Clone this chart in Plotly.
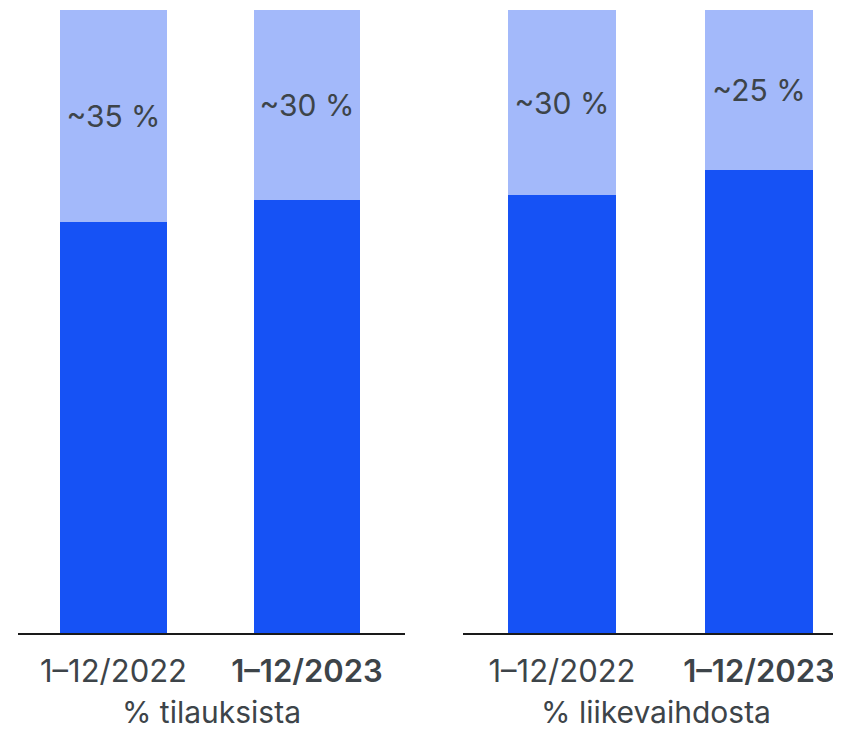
import plotly.graph_objects as go
from plotly.subplots import make_subplots

periods = ["1–12/2022", "<span style='font-weight:600'>1–12/2023</span>"]
panel_titles = ["% tilauksista", "% liikevaihdosta"]

orders_base = [66, 69.5]
orders_share = [34, 30.5]
orders_text = ["~35 %", "~30 %"]

sales_base = [70.3, 74.3]
sales_share = [29.7, 25.7]
sales_text = ["~30 %", "~25 %"]

DARK = "#1652F5"
LIGHT = "#A3B9FA"
TEXT = "#3d4449"
FONT = "Inter, Roboto, sans-serif"

fig = make_subplots(rows=1, cols=2)

panels = [(orders_base, orders_share, orders_text), (sales_base, sales_share, sales_text)]
for col, (base, share, labels) in enumerate(panels, start=1):
    fig.add_trace(
        go.Bar(x=[0, 1], y=base, marker=dict(color=DARK, line_width=0), width=0.55, showlegend=False),
        row=1, col=col,
    )
    fig.add_trace(
        go.Bar(
            x=[0, 1], y=share, marker=dict(color=LIGHT, line_width=0), width=0.55,
            text=labels, textposition="inside", insidetextanchor="middle",
            textfont=dict(size=30, color=TEXT, family=FONT), constraintext="none",
            textangle=0, showlegend=False,
        ),
        row=1, col=col,
    )

# page is drawn with an 8px body margin, so pixel targets are shifted by 8
axis_common = dict(
    tickmode="array", tickvals=[0, 1], ticktext=periods,
    tickfont=dict(size=31, color=TEXT, family=FONT),
    showline=True, linecolor="#1a1a1a", linewidth=2, showgrid=False, zeroline=False,
    ticks="", ticklabelstandoff=10,
    title_font=dict(size=30, color=TEXT, family=FONT), title_standoff=14,
)
fig.update_xaxes(axis_common)
fig.update_xaxes(domain=[10 / 841, 397 / 841], range=[-0.4935, 1.5065], title_text=panel_titles[0], row=1, col=1)
fig.update_xaxes(domain=[455 / 841, 1.0], range=[-0.5025, 1.457], title_text=panel_titles[1], row=1, col=2)
fig.update_yaxes(range=[0, 100], visible=False, showgrid=False)

fig.update_layout(
    barmode="stack",
    width=841, height=731,
    margin=dict(t=2, b=106, l=0, r=0),
    plot_bgcolor="white", paper_bgcolor="white",
    font=dict(family=FONT, color=TEXT),
)

fig.write_html("out.html")
